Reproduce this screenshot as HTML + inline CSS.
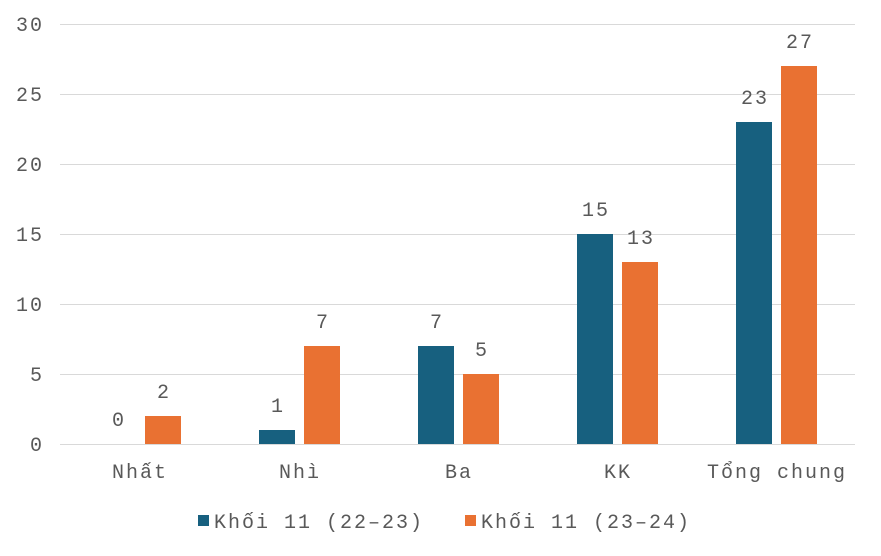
<!DOCTYPE html>
<html><head><meta charset="utf-8"><style>
html,body{margin:0;padding:0;background:#fff;}
svg text{font-family:"Liberation Mono","DejaVu Sans Mono",monospace;fill:#595959;font-size:20px;letter-spacing:2px;}
</style></head><body>
<svg width="881" height="551" xmlns="http://www.w3.org/2000/svg">
<g stroke="#d9d9d9" stroke-width="1">
<line x1="60" y1="24.5" x2="855" y2="24.5"/>
<line x1="60" y1="94.5" x2="855" y2="94.5"/>
<line x1="60" y1="164.5" x2="855" y2="164.5"/>
<line x1="60" y1="234.5" x2="855" y2="234.5"/>
<line x1="60" y1="304.5" x2="855" y2="304.5"/>
<line x1="60" y1="374.5" x2="855" y2="374.5"/>
<line x1="60" y1="444.5" x2="855" y2="444.5"/>
</g>
<g text-anchor="end">
<text x="44" y="31">30</text><text x="44" y="101">25</text><text x="44" y="171">20</text>
<text x="44" y="241">15</text><text x="44" y="311">10</text><text x="44" y="381">5</text><text x="44" y="451">0</text>
</g>
<g fill="#17607f">
<rect x="259" y="430" width="36" height="14"/>
<rect x="418" y="346" width="36" height="98"/>
<rect x="577" y="234" width="36" height="210"/>
<rect x="736" y="122" width="36" height="322"/>
</g>
<g fill="#e97132">
<rect x="145" y="416" width="36" height="28"/>
<rect x="304" y="346" width="36" height="98"/>
<rect x="463" y="374" width="36" height="70"/>
<rect x="622" y="262" width="36" height="182"/>
<rect x="781" y="66" width="36" height="378"/>
</g>
<g text-anchor="middle">
<text x="119" y="426">0</text><text x="164" y="398">2</text>
<text x="278" y="412">1</text><text x="323" y="328">7</text>
<text x="437" y="328">7</text><text x="482" y="356">5</text>
<text x="596" y="216">15</text><text x="641" y="244">13</text>
<text x="755" y="104">23</text><text x="800" y="48">27</text>
<text x="140" y="478">Nhất</text><text x="300" y="478">Nhì</text><text x="459" y="478">Ba</text>
<text x="618" y="478">KK</text><text x="777" y="478">Tổng chung</text>
</g>
<rect x="198" y="515" width="11" height="11" fill="#17607f"/>
<text x="214" y="528">Khối 11 (22–23)</text>
<rect x="465" y="515" width="11" height="11" fill="#e97132"/>
<text x="481" y="528">Khối 11 (23–24)</text>
</svg>
</body></html>
